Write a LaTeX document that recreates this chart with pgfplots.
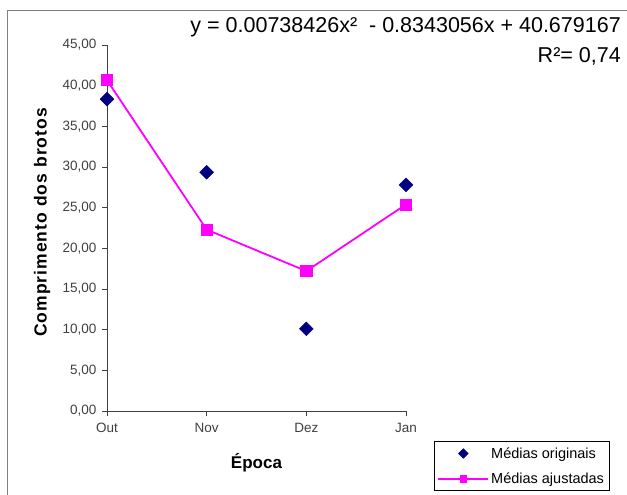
\documentclass[border=0pt]{standalone}
\usepackage{fontspec}
\setmainfont{Liberation Sans}
\newfontfamily\labfont[LetterSpace=6]{Liberation Sans}
\usepackage{pgfplots}
\pgfplotsset{compat=1.18}
\definecolor{navyd}{RGB}{0,0,128}
\definecolor{magf}{RGB}{255,0,255}
\definecolor{tickg}{RGB}{64,64,64}
\begin{document}
\begin{tikzpicture}[x=1pt,y=1pt]
\useasboundingbox (0,0) rectangle (627,495);
\fill[white] (0,0) rectangle (627,495);
\draw[gray, line width=1pt] (7,-5) -- (7,484) -- (632,484);
\begin{axis}[
  at={(107pt,84pt)}, anchor=south west,
  scale only axis, width=299pt, height=366pt,
  xmin=0, xmax=3, ymin=0, ymax=45,
  clip=false,
  axis x line*=bottom, axis y line*=left,
  axis line style={tickg, line width=0.9pt, -},
  xtick={0,1,2,3}, xticklabels={Out,Nov,Dez,Jan},
  ytick={0,5,...,45},
  tick align=outside, major tick length=5pt,
  tick style={tickg, line width=0.9pt},
  ticklabel style={font=\fontsize{13.5}{15}\selectfont, text=tickg},
  xticklabel style={yshift=-4pt},
  yticklabel style={xshift=-2pt},
  yticklabel={\pgfmathprintnumber[fixed, fixed zerofill, precision=2, use comma, assume math mode=true]{\tick}},
  xlabel={Época},
  xlabel style={at={(axis description cs:0.50,-0.142)}, anchor=center, font=\fontsize{17}{19}\selectfont\bfseries},
  ylabel={\labfont\bfseries Comprimento dos brotos},
  ylabel style={at={(axis description cs:-0.217,0.515)}, anchor=center, rotate=0, font=\fontsize{17.5}{19}\selectfont},
  legend style={at={(axis description cs:1.0936,-0.082)}, anchor=north west,
    draw=black, line width=0.8pt, font=\fontsize{14.5}{16}\selectfont,
    inner xsep=3pt, inner ysep=4pt, row sep=9pt, legend cell align=left},
  legend image code/.code={\draw[mark repeat=2,mark phase=2,#1,mark size=3.3pt] plot coordinates {(0pt,0pt)(25pt,0pt)(50pt,0pt)};},
]
\addplot[only marks, mark=square*, mark size=4.9pt, mark options={rotate=45, fill=navyd, draw=navyd}, color=navyd]
  coordinates {(0,38.35) (1,29.35) (2,10.10) (3,27.80)};
\addlegendentry{Médias originais}
\addplot[magf, line width=1.8pt, mark=square*, mark size=5.6pt, mark options={fill=magf, draw=magf, line width=0.5pt}]
  coordinates {(0,40.68) (1,22.30) (2,17.20) (3,25.40)};
\addlegendentry{Médias ajustadas}
\end{axis}
\node[anchor=base east, inner sep=0pt, font=\fontsize{21.5}{24}\selectfont] at (621,462) {y = 0.00738426x²\ \ - 0.8343056x + 40.679167};
\node[anchor=base east, inner sep=0pt, font=\fontsize{21.5}{24}\selectfont] at (621,432) {R²= 0,74};
\end{tikzpicture}
\end{document}
